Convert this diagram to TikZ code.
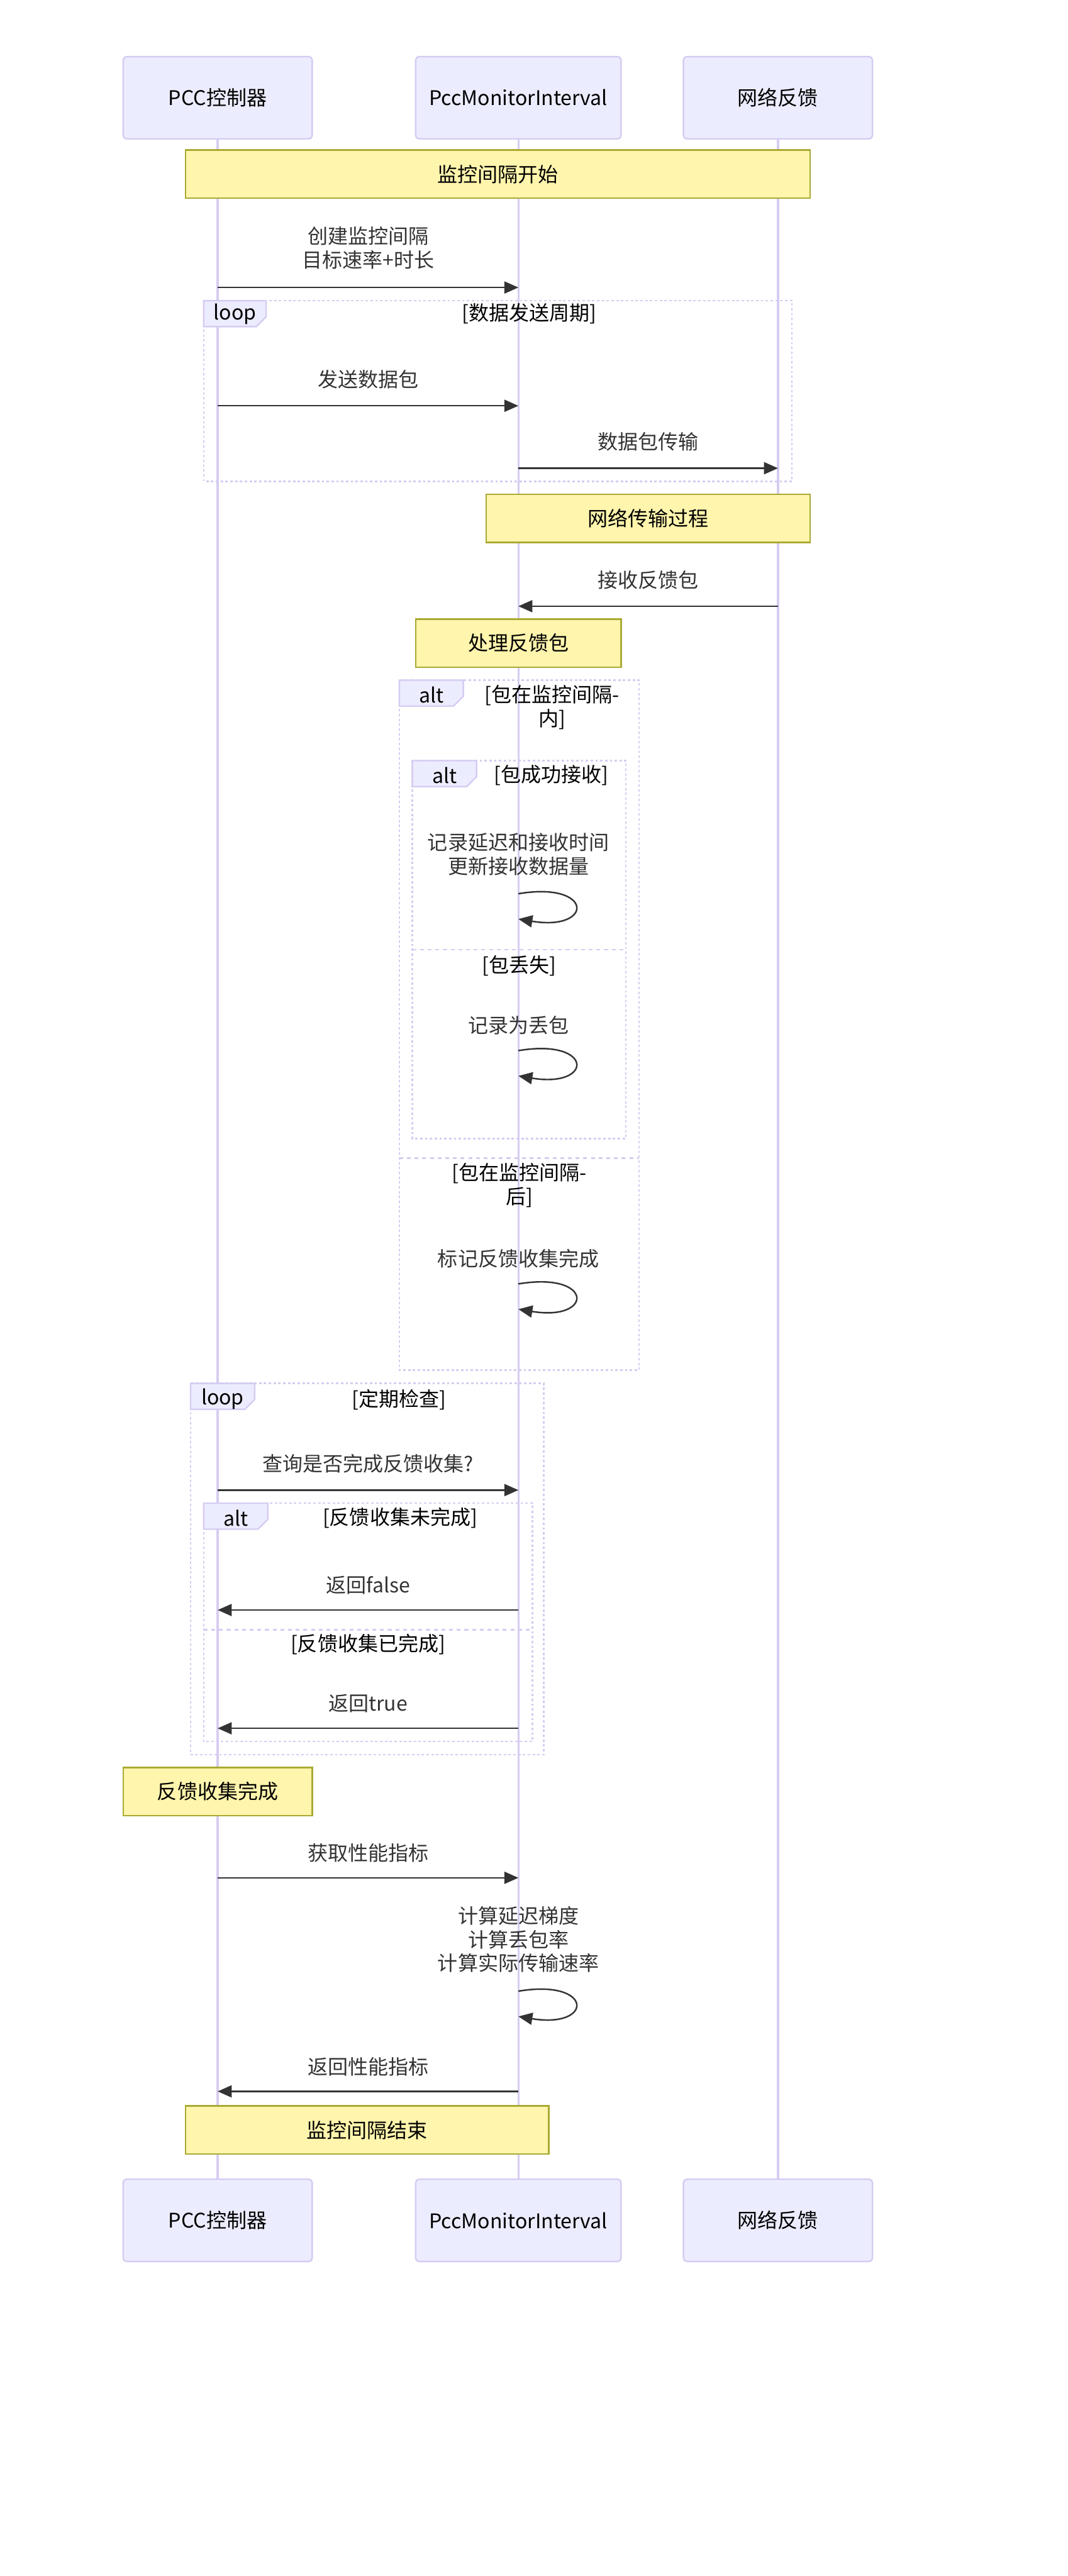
\documentclass[tikz,border=0pt]{standalone}
\usepackage{fontspec}
\setmainfont{Noto Sans CJK SC}
\usetikzlibrary{arrows.meta}
\definecolor{actfill}{HTML}{ECECFF}
\definecolor{actline}{HTML}{D6CCF2}
\definecolor{notefill}{HTML}{FFF5AD}
\definecolor{noteline}{HTML}{AAAA33}
\definecolor{msgcol}{HTML}{333333}
\newcommand\mfont{\fontsize{18.4pt}{21.75pt}\selectfont}
\begin{document}
\begin{tikzpicture}[x=1.5pt,y=-1.5pt,
  every node/.style={font=\mfont, inner sep=0pt},
  actorbox/.style={draw=actline, fill=actfill, line width=1.4pt, rounded corners=3pt, minimum width=#1, minimum height=75pt, text=black},
  notebox/.style={draw=noteline, fill=notefill, line width=1.4pt, minimum width=#1, minimum height=44pt, text=black},
  lifeline/.style={draw=actline, line width=1.9pt},
  msg/.style={draw=msgcol, line width=1.4pt, -{Triangle[length=12.8pt,width=11pt]}},
  msglabel/.style={text=msgcol, align=center},
  framebox/.style={draw=actline, line width=1.4pt, dash pattern=on 2.2pt off 2.2pt},
  divider/.style={draw=actline, line width=1.4pt, dash pattern=on 3.5pt off 3.5pt},
  tabbox/.style={draw=actline, fill=actfill, line width=1.4pt},
  ftitle/.style={text=black, align=center}]
\useasboundingbox[fill=white] (0,0) rectangle (650,1568);

% frames
\draw[framebox] (124,183) rectangle (482,293);
\draw[framebox] (243,414) rectangle (389,834);
\draw[divider] (243,705) -- (389,705);
\draw[framebox] (251,463) rectangle (381,693);
\draw[divider] (251,578) -- (381,578);
\draw[framebox] (116,842) rectangle (331,1068);
\draw[framebox] (124,915) rectangle (324,1060);
\draw[divider] (124,992) -- (324,992);

% actors
\node[actorbox=172.5pt] (a1) at (132.5,59.5) {PCC控制器};
\node[actorbox=187.5pt] (a2) at (315.5,59.5) {PccMonitorInterval};
\node[actorbox=172.5pt] (a3) at (473.5,59.5) {网络反馈};
\node[actorbox=172.5pt] (b1) at (132.5,1351.5) {PCC控制器};
\node[actorbox=187.5pt] (b2) at (315.5,1351.5) {PccMonitorInterval};
\node[actorbox=172.5pt] (b3) at (473.5,1351.5) {网络反馈};
\draw[lifeline] (a1.south) -- (b1.north);
\draw[lifeline] (a2.south) -- (b2.north);
\draw[lifeline] (a3.south) -- (b3.north);

% frame tabs and titles
\draw[tabbox] (124,183) -- (162,183) -- (162,192.8) -- (156,198.8) -- (124,198.8) -- cycle;
\node[ftitle] (t1) at (143,191) {loop};
\node[ftitle] (ft1) at (322,191) {[数据发送周期]};

\draw[tabbox] (243,414) -- (282,414) -- (282,423.8) -- (276,429.8) -- (243,429.8) -- cycle;
\node[ftitle] (t2) at (262.5,423) {alt};
\node[ftitle] (ft2) at (336,430.5) {[包在监控间隔-\\内]};
\node[ftitle] (ft2b) at (316,721.5) {[包在监控间隔-\\后]};

\draw[tabbox] (251,463) -- (290,463) -- (290,472.8) -- (284,478.8) -- (251,478.8) -- cycle;
\node[ftitle] (t3) at (270.5,472) {alt};
\node[ftitle] (ft3) at (335.5,472) {[包成功接收]};
\node[ftitle] (ft3b) at (316,588) {[包丢失]};

\draw[tabbox] (116,842) -- (155,842) -- (155,851.8) -- (149,857.8) -- (116,857.8) -- cycle;
\node[ftitle] (t4) at (135.5,851.5) {loop};
\node[ftitle] (ft4) at (243,852) {[定期检查]};

\draw[tabbox] (124,915) -- (163,915) -- (163,924.8) -- (157,930.8) -- (124,930.8) -- cycle;
\node[ftitle] (t5) at (143.5,924) {alt};
\node[ftitle] (ft5) at (243.5,924) {[反馈收集未完成]};
\node[ftitle] (ft5b) at (224,1001) {[反馈收集已完成]};

% notes
\node[notebox=570pt] (n1) at (303,106) {监控间隔开始};
\node[notebox=295.5pt] (n2) at (394.5,315.5) {网络传输过程};
\node[notebox=187.5pt] (n3) at (315.5,391.5) {处理反馈包};
\node[notebox=172.5pt] (n4) at (132.5,1090.5) {反馈收集完成};
\node[notebox=331.5pt] (n5) at (223.5,1296.5) {监控间隔结束};

% messages
\coordinate (m1s) at (132.5,175); \coordinate (m1e) at (315.5,175);
\draw[msg] (m1s) -- (m1e);
\node[msglabel] (l1) at (224,151) {创建监控间隔\\目标速率+时长};

\coordinate (m2s) at (132.5,247); \coordinate (m2e) at (315.5,247);
\draw[msg] (m2s) -- (m2e);
\node[msglabel] (l2) at (224,231) {发送数据包};

\coordinate (m3s) at (315.5,285); \coordinate (m3e) at (473.5,285);
\draw[msg] (m3s) -- (m3e);
\node[msglabel] (l3) at (394.5,269) {数据包传输};

\coordinate (m4s) at (473.5,369); \coordinate (m4e) at (315.5,369);
\draw[msg] (m4s) -- (m4e);
\node[msglabel] (l4) at (394.5,353) {接收反馈包};

\node[msglabel] (s1l) at (315.5,520) {记录延迟和接收时间\\更新接收数据量};
\coordinate (s1a) at (315.5,544); \coordinate (s1b) at (315.5,559.4);
\draw[msg] (s1a) .. controls +(46,-7.7) and +(46,7.6) .. (s1b);

\node[msglabel] (s2l) at (315.5,624) {记录为丢包};
\coordinate (s2a) at (315.5,639.5); \coordinate (s2b) at (315.5,654.9);
\draw[msg] (s2a) .. controls +(46,-7.7) and +(46,7.6) .. (s2b);

\node[msglabel] (s3l) at (315.5,766) {标记反馈收集完成};
\coordinate (s3a) at (315.5,781.5); \coordinate (s3b) at (315.5,796.9);
\draw[msg] (s3a) .. controls +(46,-7.7) and +(46,7.6) .. (s3b);

\coordinate (m5s) at (132.5,907); \coordinate (m5e) at (315.5,907);
\draw[msg] (m5s) -- (m5e);
\node[msglabel] (l5) at (224,891) {查询是否完成反馈收集?};

\coordinate (m6s) at (315.5,980); \coordinate (m6e) at (132.5,980);
\draw[msg] (m6s) -- (m6e);
\node[msglabel] (l6) at (224,965) {返回false};

\coordinate (m7s) at (315.5,1052); \coordinate (m7e) at (132.5,1052);
\draw[msg] (m7s) -- (m7e);
\node[msglabel] (l7) at (224,1037) {返回true};

\coordinate (m8s) at (132.5,1143); \coordinate (m8e) at (315.5,1143);
\draw[msg] (m8s) -- (m8e);
\node[msglabel] (l8) at (224,1128) {获取性能指标};

\node[msglabel] (s4l) at (315.5,1180.5) {计算延迟梯度\\计算丢包率\\计算实际传输速率};
\coordinate (s4a) at (315.5,1212); \coordinate (s4b) at (315.5,1227.4);
\draw[msg] (s4a) .. controls +(46,-7.7) and +(46,7.6) .. (s4b);

\coordinate (m9s) at (315.5,1273); \coordinate (m9e) at (132.5,1273);
\draw[msg] (m9s) -- (m9e);
\node[msglabel] (l9) at (224,1258) {返回性能指标};
\end{tikzpicture}
\end{document}
